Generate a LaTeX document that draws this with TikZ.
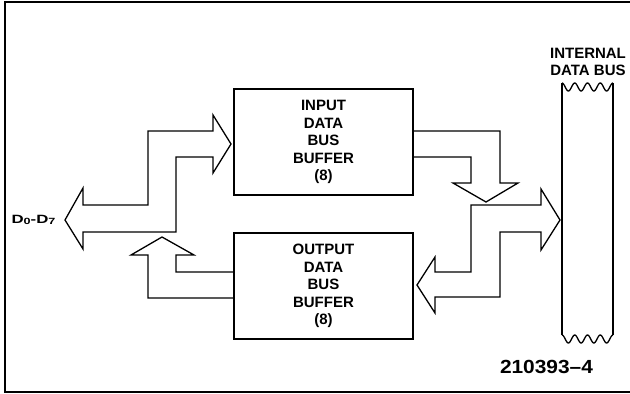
\documentclass[tikz,border=0pt]{standalone}
\usepackage{fontspec}
\setmainfont{Liberation Sans}
\begin{document}
\begin{tikzpicture}[x=1pt,y=-1pt,
  box/.style={draw,line width=2.6pt,minimum width=179pt,minimum height=106pt,inner sep=0pt,align=center,font=\bfseries\fontsize{15}{17.5}\selectfont},
  bus/.style={line width=1.3pt,line join=miter},
  lbl/.style={font=\bfseries\fontsize{15}{17}\selectfont,inner sep=0pt,align=center}]
\useasboundingbox (0,0) rectangle (630,394);
% frame
\draw[line width=1.6pt] (631,2) -- (5,2) -- (5,392) -- (631,392);
% buffers
\node[box] (inbuf) at (323.5,142) {INPUT\\DATA\\BUS\\BUFFER\\(8)};
\node[box] (outbuf) at (323.5,286) {OUTPUT\\DATA\\BUS\\BUFFER\\(8)};
% left bus arrows
\draw[bus] (65,220) -- (83,188) -- (83,205) -- (148,205) -- (148,131) -- (213,131) -- (213,115) -- (231,144) -- (213,173) -- (213,157) -- (176,157) -- (176,232) -- (83,232) -- (83,249) -- cycle;
\coordinate (o1) at (234,272);
\coordinate (o2) at (234,298);
\draw[bus] (o1) -- (176,272) -- (176,255) -- (194,255) -- (162,237) -- (131,255) -- (148,255) -- (148,298) -- (o2);
% right bus arrows
\coordinate (i1) at (413,131);
\coordinate (i2) at (413,157);
\draw[bus] (i1) -- (500,131) -- (500,183) -- (518,183) -- (486,202) -- (453,183) -- (471,183) -- (471,157) -- (i2);
\draw[bus] (417,285) -- (435,257) -- (435,272) -- (471,272) -- (471,205) -- (541,205) -- (541,189) -- (560,220) -- (541,250) -- (541,232) -- (500,232) -- (500,297) -- (435,297) -- (435,313) -- cycle;
% internal data bus
\draw[bus] (562,83) -- (562,335);
\draw[bus] (613,83) -- (613,335);
\draw[bus] plot[domain=0:51,samples=80,smooth] ({562+\x},{87-4*cos(\x*28.235)});
\draw[bus] plot[domain=0:51,samples=80,smooth] ({562+\x},{339-4*cos(\x*28.235)});
% labels
\node[lbl] (ibus) at (588,61.5) {INTERNAL\\DATA BUS};
\node[inner sep=0pt] (dlbl) at (33.5,220) {\scalebox{1.4}[1]{\bfseries\fontsize{12}{14}\selectfont D\raisebox{-1.5pt}{\fontsize{9}{10}\selectfont 0}-D\raisebox{-1.5pt}{\fontsize{9}{10}\selectfont 7}}};
\node[inner sep=0pt] (fig) at (546.5,367) {\scalebox{1.1}[1]{\bfseries\fontsize{19}{22}\selectfont 210393--4}};
\end{tikzpicture}
\end{document}
